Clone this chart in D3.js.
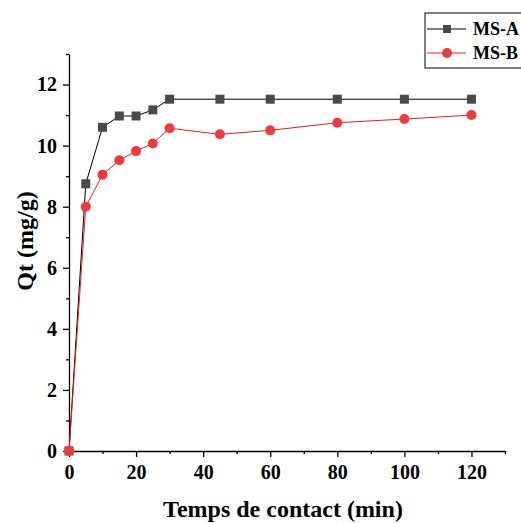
<html>
<head>
<script src="https://d3js.org/d3.v7.min.js"></script>
<style>
  body { margin: 0; background: #fff; }
  text { font-family: "Liberation Serif", "Times New Roman", serif; font-weight: bold; }
  .axis text { font-size: 20px; font-family: "Liberation Serif", serif; }
  .axis path, .axis line { stroke: #000; stroke-width: 1.3; }
</style>
</head>
<body>
<svg id="chart" width="521" height="523"></svg>
<script>
const times = [0, 5, 10, 15, 20, 25, 30, 45, 60, 80, 100, 120];
const msA = [0, 8.75, 10.6, 10.97, 10.97, 11.17, 11.52, 11.52, 11.52, 11.52, 11.52, 11.52];
const msB = [0, 8.0, 9.05, 9.52, 9.82, 10.07, 10.57, 10.37, 10.5, 10.75, 10.87, 11.0];
const xTicks = [0, 20, 40, 60, 80, 100, 120];
const yTicks = [0, 2, 4, 6, 8, 10, 12];

const svg = d3.select("#chart");
const margin = {left: 69, top: 54, right: 16, bottom: 72};
const x = d3.scaleLinear().domain([0, 130]).range([margin.left, 521 - margin.right]);
const y = d3.scaleLinear().domain([0, 13]).range([451, 54]);

// minor ticks
svg.append("g").attr("class", "axis")
  .attr("transform", "translate(0,451)")
  .call(d3.axisBottom(x).tickValues(d3.range(10, 131, 20)).tickSize(3).tickFormat(""))
  .select(".domain").remove();
svg.append("g").attr("class", "axis")
  .attr("transform", "translate(" + margin.left + ",0)")
  .call(d3.axisLeft(y).tickValues(d3.range(1, 14, 2)).tickSize(3).tickFormat(""))
  .select(".domain").remove();

// major axes
svg.append("g").attr("class", "axis")
  .attr("transform", "translate(0,451)")
  .call(d3.axisBottom(x).tickValues(xTicks).tickSize(6).tickSizeOuter(0).tickPadding(8));
svg.append("g").attr("class", "axis")
  .attr("transform", "translate(" + margin.left + ",0)")
  .call(d3.axisLeft(y).tickValues(yTicks).tickSize(6).tickSizeOuter(0).tickPadding(6));

// titles
svg.append("text").attr("x", 283).attr("y", 517).attr("text-anchor", "middle")
  .style("font-size", "24px").text("Temps de contact (min)");
svg.append("text").attr("transform", "translate(33,241) rotate(-90)").attr("text-anchor", "middle")
  .style("font-size", "24px").text("Qt (mg/g)");

const line = d3.line().x((d, i) => x(times[i])).y(d => y(d));

svg.append("path").datum(msA).attr("d", line).attr("fill", "none").attr("stroke", "#000").attr("stroke-width", 1);
svg.append("path").datum(msB).attr("d", line).attr("fill", "none").attr("stroke", "#ee1c1c").attr("stroke-width", 1);

svg.selectAll("rect.ptA").data(msA).join("rect").attr("class", "ptA")
  .attr("x", (d, i) => x(times[i]) - 4.5).attr("y", d => y(d) - 4.5)
  .attr("width", 9).attr("height", 9).attr("fill", "#4a4a4a");
svg.selectAll("circle.ptB").data(msB).join("circle").attr("class", "ptB")
  .attr("cx", (d, i) => x(times[i])).attr("cy", d => y(d)).attr("r", 5)
  .attr("fill", "#ee3a3a");

// legend
const lg = svg.append("g");
lg.append("rect").attr("x", 425).attr("y", 13).attr("width", 110).attr("height", 55)
  .attr("fill", "#fff").attr("stroke", "#000").attr("stroke-width", 1);
lg.append("line").attr("x1", 427).attr("x2", 466).attr("y1", 29).attr("y2", 29).attr("stroke", "#000");
lg.append("rect").attr("x", 443).attr("y", 25).attr("width", 8).attr("height", 8).attr("fill", "#4a4a4a");
lg.append("text").attr("x", 473).attr("y", 35).style("font-size", "18px").text("MS-A");
lg.append("line").attr("x1", 427).attr("x2", 466).attr("y1", 53).attr("y2", 53).attr("stroke", "#ee1c1c");
lg.append("circle").attr("cx", 447).attr("cy", 53).attr("r", 5).attr("fill", "#ee3a3a");
lg.append("text").attr("x", 473).attr("y", 59).style("font-size", "18px").text("MS-B");
</script>
</body>
</html>
